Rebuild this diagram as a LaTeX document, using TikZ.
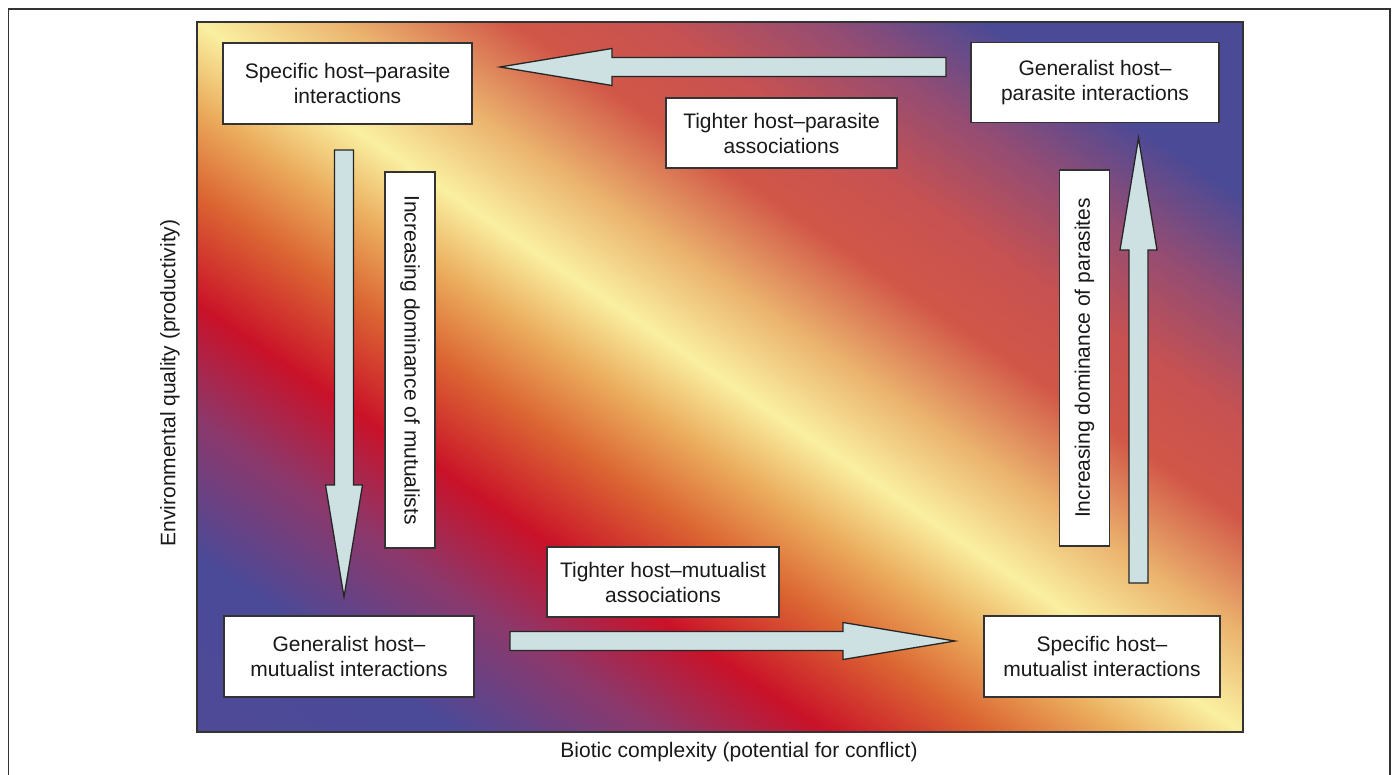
\documentclass[tikz,border=0pt]{standalone}
\usepackage{fontspec}
\setmainfont{Liberation Sans}
\usetikzlibrary{calc}

% diagonal colour field, blue - red - yellow - red - blue
% (corner to corner runs from 14.64bp to 85.36bp)
\pgfdeclarehorizontalshading{habitat}{100bp}{
  rgb(0bp)=(0.31,0.29,0.59);
  rgb(14.64bp)=(0.31,0.29,0.59);
  rgb(23.13bp)=(0.29,0.29,0.60);
  rgb(30.20bp)=(0.55,0.22,0.42);
  rgb(35.85bp)=(0.79,0.07,0.16);
  rgb(41.51bp)=(0.86,0.40,0.20);
  rgb(45.75bp)=(0.92,0.67,0.36);
  rgb(50bp)=(0.98,0.94,0.63);
  rgb(54.95bp)=(0.92,0.70,0.43);
  rgb(60.60bp)=(0.82,0.34,0.28);
  rgb(65.55bp)=(0.78,0.32,0.32);
  rgb(71.21bp)=(0.58,0.30,0.45);
  rgb(76.86bp)=(0.29,0.29,0.59);
  rgb(85.36bp)=(0.29,0.29,0.59);
  rgb(100bp)=(0.29,0.29,0.59)}

\definecolor{arrowfill}{RGB}{205,224,226}

\tikzset{
  box/.style={draw=black!80, line width=1.3pt, fill=white, inner sep=2pt,
    align=center, font=\fontsize{21}{25}\selectfont, text=black!90},
  blockarrow/.style={draw=black!85, line width=1.3pt, fill=arrowfill, line join=miter}
}

% block arrow from tail #1 to tip #2
\newcommand{\bigarrow}[2]{%
  \coordinate (#1h) at ($(#2)!112pt!(#1)$);
  \draw[blockarrow] ($(#1)!9.5pt!90:(#2)$) -- ($(#1h)!9.5pt!-90:(#1)$)
    -- ($(#1h)!18.5pt!-90:(#1)$) -- (#2) -- ($(#1h)!18.5pt!90:(#1)$)
    -- ($(#1h)!9.5pt!90:(#1)$) -- ($(#1)!9.5pt!-90:(#2)$) -- cycle;
}

\begin{document}
\begin{tikzpicture}[x=1pt,y=-1pt]
    \useasboundingbox (0,0) rectangle (1392,775);
    \draw[black!80, line width=1.2pt] (8.5,9) rectangle (1390,800);
    % square shading stretched to the field
    \begin{scope}[transform canvas={shift={(197pt,-732pt)}, xscale=1046/710}]
      \shade[shading=habitat, shading angle=45] (0,0) rectangle (710,-710);
    \end{scope}
    \draw[black!80, line width=1.2pt] (197,22) rectangle (1243,732);

    \node[box, minimum width=249pt, minimum height=81pt] (spar) at (347.5,83.5) {Specific host--parasite\\interactions};
    \node[box, minimum width=248pt, minimum height=80pt] (gpar) at (1095,82.5) {Generalist host--\\parasite interactions};
    \node[box, minimum width=231pt, minimum height=70pt] (tpar) at (781.5,133) {Tighter host--parasite\\associations};
    \node[box, minimum width=250pt, minimum height=81pt] (gmut) at (349,656.5) {Generalist host--\\mutualist interactions};
    \node[box, minimum width=236pt, minimum height=81pt] (smut) at (1102,656.5) {Specific host--\\mutualist interactions};
    \node[box, minimum width=232pt, minimum height=70pt] (tmut) at (663,582) {Tighter host--mutualist\\associations};
    \node[box, rotate=-90, minimum width=376pt, minimum height=50pt] (dmut) at (410,360) {Increasing dominance of mutualists};
    \node[box, rotate=90, minimum width=376pt, minimum height=50pt] (dpar) at (1084.5,358) {Increasing dominance of parasites};

    \coordinate (ta) at (946,67);    \coordinate (pa) at (500,67);
    \coordinate (tb) at (344,150);   \coordinate (pb) at (344,597);
    \coordinate (tc) at (510,641);   \coordinate (pc) at (955,641);
    \coordinate (td) at (1138.5,583); \coordinate (pd) at (1138.5,138);
    \bigarrow{ta}{pa}
    \bigarrow{tb}{pb}
    \bigarrow{tc}{pc}
    \bigarrow{td}{pd}

    \node[font=\fontsize{21}{25}\selectfont, text=black!90, rotate=90] (yaxis) at (170,383) {Environmental quality (productivity)};
    \node[font=\fontsize{21}{25}\selectfont, text=black!90] (xaxis) at (739,752) {Biotic complexity (potential for conflict)};
\end{tikzpicture}
\end{document}
